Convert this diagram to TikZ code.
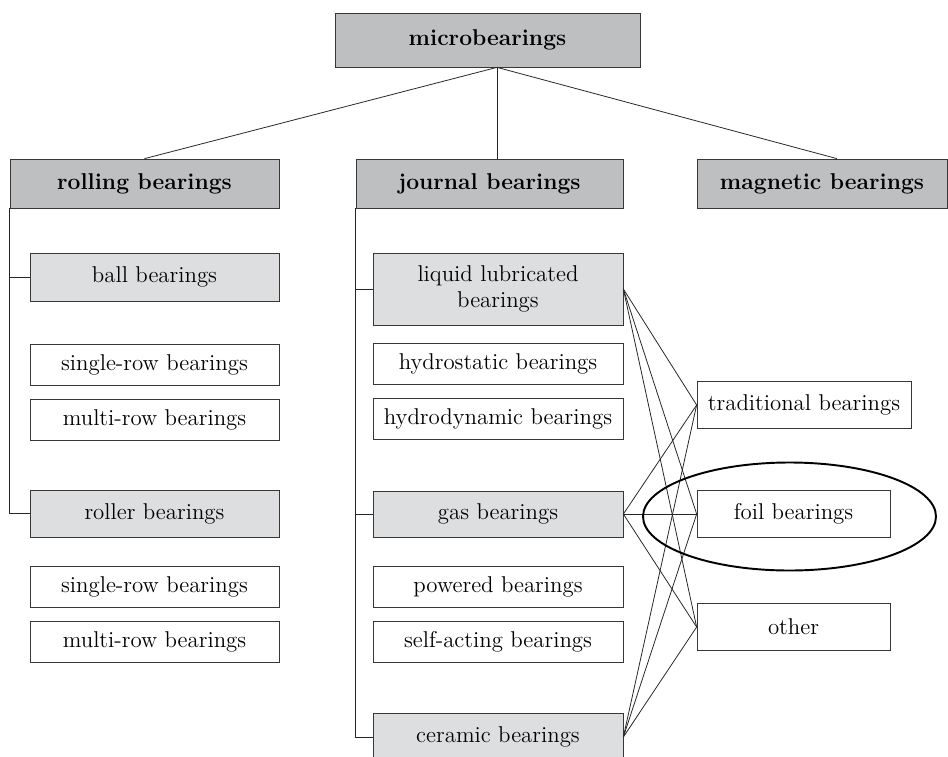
\documentclass[tikz,border=0pt]{standalone}
\usetikzlibrary{positioning}
\definecolor{famgray}{RGB}{190,191,193}
\definecolor{kindgray}{RGB}{221,222,224}
\definecolor{edgegray}{RGB}{55,55,55}

\begin{document}
\begin{tikzpicture}
			[node distance=1.1cm,on grid,
			family/.style={rectangle,draw=edgegray,fill=famgray,thin,inner sep=0pt,minimum height=0.98cm,font={\fontsize{13}{15}\selectfont\bfseries}},
			kind/.style={family,fill=kindgray,minimum width=4.98cm,minimum height=0.96cm,align=center,font={\fontsize{13}{15}\selectfont}},
			leaf/.style={kind,fill=white,minimum height=0.82cm},
			link/.style={draw=black!85,line width=0.45pt}]

			\useasboundingbox (0,0) rectangle (18.96,-15.12);

			\node [family,minimum width=6.1cm,minimum height=1.08cm](mb) at (9.75,-0.8) {microbearings};
			\coordinate (hub) at ([xshift=1.9mm]mb.south);

			\node [family,minimum width=5.34cm](journal) [below=2.87cm of mb, xshift=0.4mm] {journal bearings};
			\node [family,minimum width=5.38cm](rolling) [left=6.9cm of journal]     {rolling bearings};
			\node [family,minimum width=5cm](magnetic)   [right=6.65cm of journal]   {magnetic bearings};

			% rolling bearings
			\node [kind](ball)      [below=1.87cm of rolling, xshift=2mm]  {ball bearings};
			\node [leaf](ballsr)    [below=1.75cm of ball]                 {single-row bearings};
			\node [leaf](ballmr)    [below=of ballsr]                      {multi-row bearings};
			\node [kind,minimum height=0.94cm](roller) [below=1.88cm of ballmr] {roller bearings};
			\node [leaf](rollersr)  [below=1.46cm of roller]               {single-row bearings};
			\node [leaf](rollermr)  [below=of rollersr]                    {multi-row bearings};

			% journal bearings
			\node [kind,minimum width=5cm,minimum height=1.44cm](liquid) [below=2.11cm of journal, xshift=1.7mm] {liquid lubricated\\bearings};
			\node [leaf,minimum width=5cm](hydrostatic)  [below=1.49cm of liquid]      {hydrostatic bearings};
			\node [leaf,minimum width=5cm](hydrodynamic) [below=of hydrostatic]        {hydrodynamic bearings};
			\node [kind,minimum width=5cm,minimum height=0.92cm](gas) [below=1.91cm of hydrodynamic] {gas bearings};
			\node [leaf,minimum width=5cm](powered)      [below=1.45cm of gas]         {powered bearings};
			\node [leaf,minimum width=5cm](selfacting)   [below=of powered]            {self-acting bearings};
			\node [kind,minimum width=5cm](ceramic)      [below=1.91cm of selfacting]  {ceramic bearings};

			% kinds of gas bearings
			\node [leaf,minimum width=3.86cm,minimum height=0.94cm](foil)        [right=5.91cm of gas]               {foil bearings};
			\node [leaf,minimum width=4.28cm,minimum height=0.94cm](traditional) [above=2.18cm of foil, xshift=2.1mm] {traditional bearings};
			\node [leaf,minimum width=3.86cm,minimum height=0.94cm](other)       [below=2.26cm of foil]              {other};

			\draw [link] (hub) -- (rolling.north);
			\draw [link] (hub) -- (hub |- journal.north);
			\draw [link] (hub) -- ([xshift=3mm]magnetic.north);

			\draw [link] (rolling.south west) |- (roller.west);
			\draw [link] (rolling.south west |- ball.west) -- (ball.west);
			\draw [link] (journal.south west) |- (ceramic.west);
			\foreach \k in {liquid,gas}
				\draw [link] (journal.south west |- \k.west) -- (\k.west);

			\foreach \s in {liquid,gas,ceramic}
				\foreach \t in {traditional,foil,other}
					\draw [link] (\s.east) -- (\t.west);

			\draw [line width=1.1pt] ([xshift=-0.08cm,yshift=-0.05cm]foil.center) ellipse (2.93cm and 1.08cm);

			\end{tikzpicture}
\end{document}
